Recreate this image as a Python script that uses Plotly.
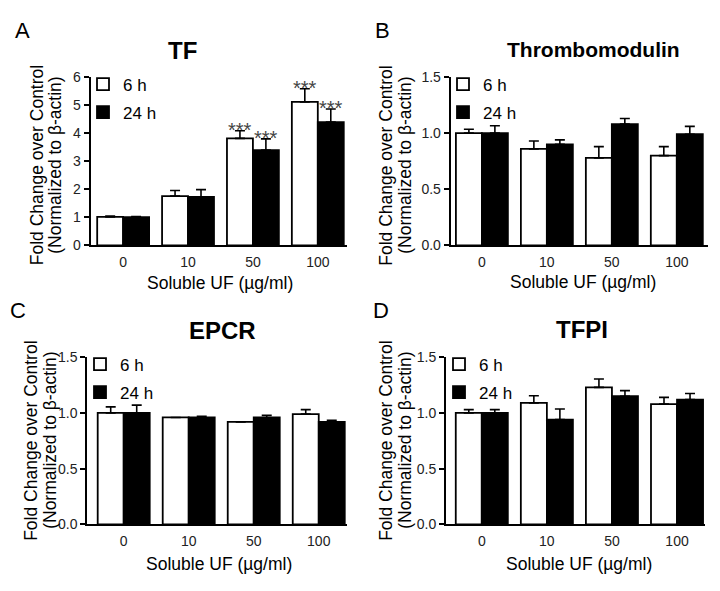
import plotly.graph_objects as go

categories = ["0", "10", "50", "100"]
series_names = ["6 h", "24 h"]

tf_6h = [1.02, 1.76, 3.82, 5.12]
tf_6h_err = [0.03, 0.20, 0.27, 0.47]
tf_24h = [1.01, 1.73, 3.40, 4.40]
tf_24h_err = [0.02, 0.26, 0.40, 0.47]
tf_sig_6h = ["", "", "***", "***"]
tf_sig_24h = ["", "", "***", "***"]

tm_6h = [1.00, 0.86, 0.78, 0.80]
tm_6h_err = [0.035, 0.07, 0.10, 0.08]
tm_24h = [1.00, 0.90, 1.08, 0.99]
tm_24h_err = [0.065, 0.04, 0.05, 0.07]

epcr_6h = [1.00, 0.96, 0.92, 0.99]
epcr_6h_err = [0.055, 0.0, 0.0, 0.04]
epcr_24h = [1.00, 0.96, 0.96, 0.92]
epcr_24h_err = [0.07, 0.01, 0.02, 0.015]

tfpi_6h = [1.00, 1.09, 1.23, 1.08]
tfpi_6h_err = [0.03, 0.065, 0.075, 0.06]
tfpi_24h = [1.00, 0.94, 1.15, 1.12]
tfpi_24h_err = [0.03, 0.095, 0.05, 0.055]

titles = ["TF", "Thrombomodulin", "EPCR", "TFPI"]
title_sizes = [24, 21, 24, 24]
letters = ["A", "B", "C", "D"]
y_tick_vals_a = [0, 1, 2, 3, 4, 5, 6]
y_tick_vals_b = [0.0, 0.5, 1.0, 1.5]

FONT = "Liberation Sans, Arial, sans-serif"
OFF = 8  # default page body margin
W, H = 720 - 2 * OFF, 591 - 2 * OFF


def px(x):
    return (x - OFF) / W


def py(y):
    return 1 - (y - OFF) / H


panels = [
    dict(data=(tf_6h, tf_6h_err, tf_24h, tf_24h_err), sig=(tf_sig_6h, tf_sig_24h),
         xdom=[px(90.7), px(347)], ydom=[py(244), py(71)], xr=[-0.5, 3.45], yr=[0, 6],
         ticks=y_tick_vals_a, fmt="d", letter=(22, 23), title=(182, 44),
         yt=(36.5, 55, 162), xt=(220, 283), leg=(px(83), py(60))),
    dict(data=(tm_6h, tm_6h_err, tm_24h, tm_24h_err), sig=None,
         xdom=[px(450.7), px(708)], ydom=[py(244), py(70.7)], xr=[-0.48, 3.48], yr=[0, 1.5],
         ticks=y_tick_vals_b, fmt=".1f", letter=(382, 23), title=(593, 42),
         yt=(386, 405, 162), xt=(583, 282), leg=(px(443), py(60))),
    dict(data=(epcr_6h, epcr_6h_err, epcr_24h, epcr_24h_err), sig=None,
         xdom=[px(87.3), px(346.7)], ydom=[py(531), py(359)], xr=[-0.56, 3.43], yr=[0, 1.5],
         ticks=y_tick_vals_b, fmt=".1f", letter=(18, 311), title=(222, 331),
         yt=(31, 50, 445), xt=(219, 572), leg=(px(80), py(348))),
    dict(data=(tfpi_6h, tfpi_6h_err, tfpi_24h, tfpi_24h_err), sig=None,
         xdom=[px(446), px(705)], ydom=[py(531), py(359)], xr=[-0.55, 3.43], yr=[0, 1.5],
         ticks=y_tick_vals_b, fmt=".1f", letter=(381, 311), title=(582, 330),
         yt=(386, 405, 445), xt=(579, 572), leg=(px(439), py(348))),
]

fig = go.Figure()
annotations = []
layout = dict(
    width=W, height=H, margin=dict(l=0, r=0, t=0, b=0),
    paper_bgcolor="white", plot_bgcolor="white",
    barmode="group", bargap=0.2, bargroupgap=0.0,
    font=dict(family=FONT, color="black"),
    showlegend=True,
)


def ann(text, x, y, size, **kw):
    d = dict(text=text, x=x, y=y, xref="paper", yref="paper", showarrow=False,
             xanchor="center", yanchor="middle", font=dict(size=size, family=FONT, color="black"))
    d.update(kw)
    return d


for i, p in enumerate(panels):
    n = "" if i == 0 else str(i + 1)
    xa, ya = "x" + n, "y" + n
    leg = "legend" + n
    v6, e6, v24, e24 = p["data"]
    fig.add_trace(go.Bar(
        x=categories, y=v6, name=series_names[0], xaxis=xa, yaxis=ya, legend=leg,
        legendgroup=f"g6{i}",
        marker=dict(color="white", line=dict(color="black", width=1.8)),
        error_y=dict(type="data", array=e6, arrayminus=[0] * len(e6), symmetric=False,
                     color="black", thickness=1.6, width=5),
    ))
    fig.add_trace(go.Bar(
        x=categories, y=v24, name=series_names[1], xaxis=xa, yaxis=ya, legend=leg,
        legendgroup=f"g24{i}",
        marker=dict(color="black", line=dict(color="black", width=1.8)),
        error_y=dict(type="data", array=e24, arrayminus=[0] * len(e24), symmetric=False,
                     color="black", thickness=1.6, width=5),
    ))
    layout["xaxis" + n] = dict(
        domain=p["xdom"], range=p["xr"], type="category", anchor=ya,
        showline=True, linecolor="black", linewidth=2, ticks="",
        showgrid=False, zeroline=False, fixedrange=True,
        tickfont=dict(family=FONT, size=14, color="#222"), ticklabelstandoff=3,
    )
    layout["yaxis" + n] = dict(
        domain=p["ydom"], range=p["yr"], anchor=xa,
        showline=True, linecolor="black", linewidth=2, ticks="outside",
        ticklen=5, tickwidth=2, tickcolor="black", tickvals=p["ticks"],
        tickformat=p["fmt"], showgrid=False, zeroline=False, fixedrange=True,
        tickfont=dict(family=FONT, size=14, color="#222"),
    )
    layout[leg] = dict(
        x=p["leg"][0], y=p["leg"][1], xanchor="left", yanchor="top",
        bgcolor="rgba(0,0,0,0)", borderwidth=0, tracegroupgap=3,
        traceorder="grouped", itemwidth=30,
        font=dict(family=FONT, size=17, color="black"),
    )
    lx, ly = p["letter"]
    annotations.append(ann(letters[i], px(lx), py(ly), 22))
    tx, ty = p["title"]
    annotations.append(ann("<b>" + titles[i] + "</b>", px(tx), py(ty), title_sizes[i]))
    y1, y2, yc = p["yt"]
    annotations.append(ann("Fold Change over Control", px(y1), py(yc), 17.5, textangle=-90))
    annotations.append(ann("(Normalized to β-actin)", px(y2), py(yc), 17.5, textangle=-90))
    xtx, xty = p["xt"]
    annotations.append(ann("Soluble UF (µg/ml)", px(xtx), py(xty), 17.5))
    if p["sig"]:
        for j, cat in enumerate(categories):
            for s, (vals, errs, shift) in enumerate([(v6, e6, -13), (v24, e24, 13)]):
                lab = p["sig"][s][j]
                if lab:
                    annotations.append(dict(text=lab, x=j, y=vals[j] + errs[j], xref=xa, yref=ya,
                                            xshift=shift, yshift=-12, xanchor="center",
                                            yanchor="bottom", showarrow=False,
                                            font=dict(size=20, family=FONT, color="#444")))

layout["annotations"] = annotations
fig.update_layout(**layout)
fig.write_html("out.html", config={"displayModeBar": False})
